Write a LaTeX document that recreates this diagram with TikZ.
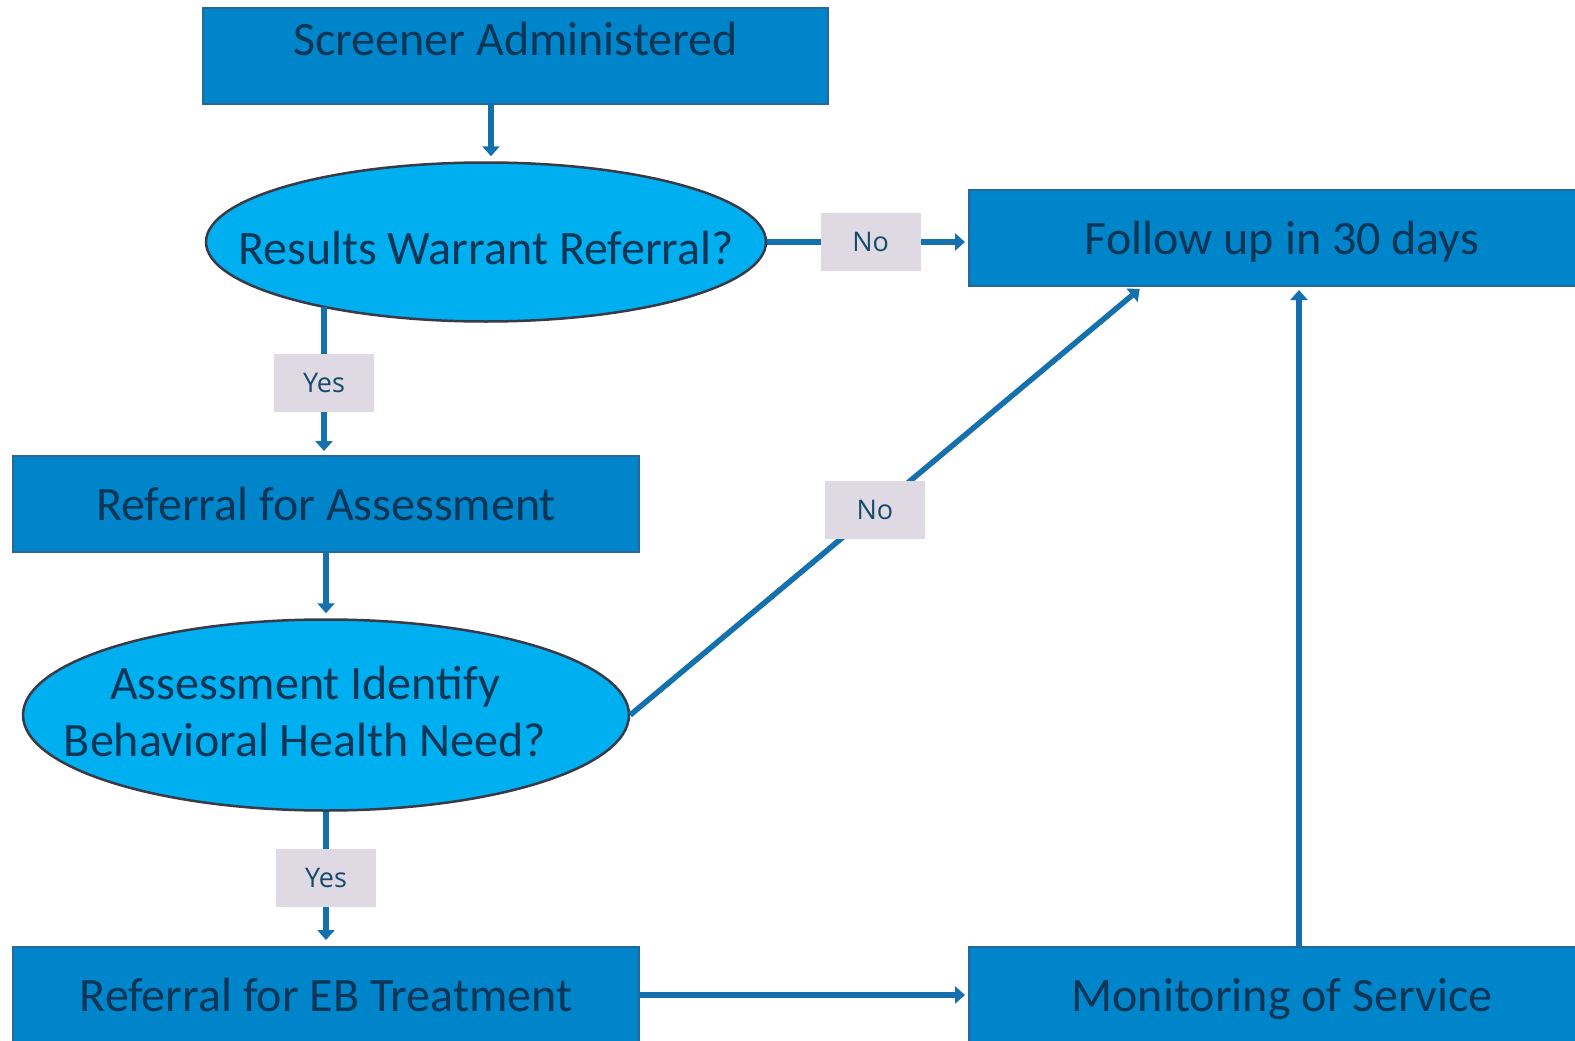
\documentclass[tikz,border=0pt]{standalone}
\usepackage{fontspec}
\setmainfont{Carlito}
\newfontfamily\labfont{Open Sans}
\usetikzlibrary{shapes.geometric,arrows.meta,calc}
\definecolor{boxfill}{HTML}{0084CA}
\definecolor{boxline}{HTML}{26689A}
\definecolor{ellfill}{HTML}{00AFEF}
\definecolor{ellline}{HTML}{383A48}
\definecolor{txt}{HTML}{0D3656}
\definecolor{labfill}{HTML}{DED9E2}
\definecolor{labtxt}{HTML}{164A6C}
\definecolor{arr}{HTML}{1570AE}
\tikzset{
  bigtext/.style={text=txt, font=\fontsize{48}{57}\selectfont, text height=36pt, text depth=3pt},
  box/.style={draw=boxline, line width=2pt, fill=boxfill, rectangle, inner sep=0pt,
    minimum width=626pt, minimum height=96pt, bigtext},
  ell/.style={draw=ellline, line width=2.5pt, fill=ellfill, ellipse, inner sep=0pt},
  etext/.style={bigtext, align=center},
  lab/.style={fill=labfill, inner sep=0pt, minimum width=100pt, minimum height=58pt,
    text=labtxt, font=\labfont\fontsize{27}{30}\selectfont},
  conn/.style={draw=arr, line width=5.5pt, -{Triangle[width=17pt,length=10pt]}},
}
\begin{document}
\begin{tikzpicture}[x=1pt,y=-1pt]
\useasboundingbox (0,0) rectangle (1575,1041);
\clip (0,0) rectangle (1575,1041);
% nodes
\node[box, minimum width=625pt, minimum height=95pt] (sc) at (515.5,56) {};
\node[bigtext] (sctext) at (515.5,39.5) {Screener Administered};
\node[ell, minimum width=560pt, minimum height=159pt] (e1) at (486,242) {};
\node[etext] (e1text) at (486,248) {Results Warrant Referral?};
\node[box] (fu) at (1282,238) {Follow up in 30 days};
\node[box] (ra) at (326,504) {Referral for Assessment};
\node[ell, minimum width=606pt, minimum height=191pt] (e2) at (326,715) {};
\node[etext] (e2text) at (305,740) {Assessment Identify\\Behavioral Health Need?};
\node[box] (eb) at (326,995) {Referral for EB Treatment};
\node[box] (mon) at (1282,995) {Monitoring of Service};
% helper coordinates
\coordinate (y1s) at (324,307);
\coordinate (y1e) at (324,456);
\coordinate (nd) at ($(fu.south west)+(174,0)$);
% connectors
\draw[conn, shorten >=5pt] ($(sc.south -| e1.north)+(5,0)$) -- ($(e1.north)+(5,0)$);
\draw[conn, shorten >=3pt] (e1.east) -- node[lab, pos=0.515] (no1) {No} (e1.east -| fu.west);
\draw[conn, shorten >=5pt] (y1s) -- node[lab, pos=0.51] (yes1) {Yes} (y1e);
\draw[conn, shorten >=5pt] (ra.south) -- (e2.north);
\draw[conn, shorten >=3pt] (e2.east) -- node[lab, pos=0.478] (no2) {No} (nd);
\draw[conn, shorten >=6pt] (e2.south) -- node[lab, pos=0.49] (yes2) {Yes} (eb.north);
\draw[conn, shorten >=3pt] (eb.east) -- (mon.west);
\draw[conn, shorten >=3pt] ($(mon.north)+(17,0)$) -- ($(fu.south)+(17,0)$);
\end{tikzpicture}
\end{document}
